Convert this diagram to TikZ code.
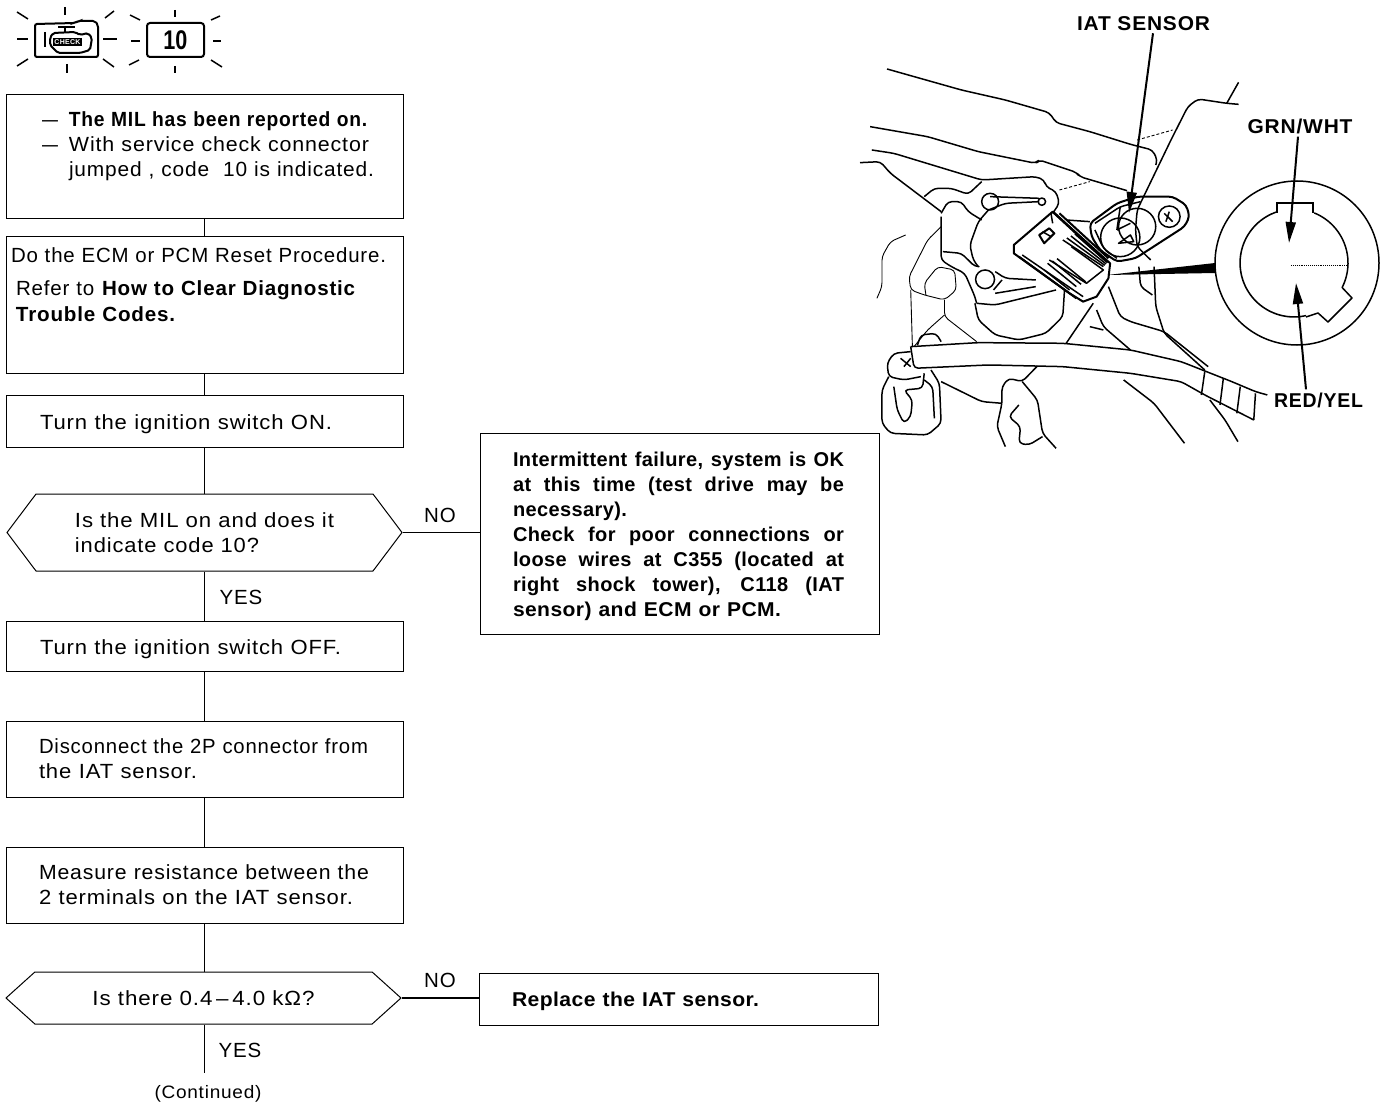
\documentclass[tikz,border=0pt]{standalone}
\usepackage{fontspec}
\setmainfont[LetterSpace=4]{Liberation Sans}
\usetikzlibrary{arrows.meta,shapes.symbols}
\newcommand{\jline}[1]{\makebox[331pt][s]{\spaceskip=6pt plus 30pt\relax #1}}
\newcommand{\fitline}[2]{\resizebox{#1pt}{\height}{#2}}

\begin{document}
\begin{tikzpicture}[x=1pt,y=-1pt,
  flowtext/.style={font=\fontsize{20.5}{25}\selectfont},
  flowbox/.style={draw,flowtext,line width=1pt,minimum width=397,inner xsep=#1,
    text width={(397-2*#1)*1pt},align=left},
  notebox/.style={draw,line width=1pt,minimum width=399,inner xsep=33,
    text width=333,align=left,font=\fontsize{20}{25}\selectfont\bfseries\addfontfeature{LetterSpace=2}},
  flowhex/.style={draw,flowtext,line width=1pt,align=left,signal,
    signal from=nowhere,signal to=east and west,inner xsep=0},
  flowline/.style={line width=1pt},
  sketch/.style={line width=1.5pt,line join=round,rounded corners=4pt},
  thinsketch/.style={line width=.9pt,line join=round,rounded corners=4pt},
  callout/.style={font=\fontsize{20}{24}\selectfont\bfseries},
  pointer/.style={line width=2pt,-{Stealth[inset=0pt,length=21pt,width=10pt]}},
  ray/.style={line width=1.5pt}]

\useasboundingbox (0,0) rectangle (1392,1110);

% lamps
\draw[line width=2pt,rounded corners=2pt] (35,24)--(75,23)--(78,21)--(95,21)--(98,25)--(98,57)--(35,57)--cycle;
\draw[line width=2.5pt] (45,32)--(45,47);
\draw[line width=2pt] (58,27)--(75,27);
\draw[line width=2pt] (65,27)--(65,32);
\draw[line width=2pt,rounded corners=2pt] (53,33)--(75,32)--(80,35)--(88,33)--(92,38)--(90,50)--(80,53)--(58,53)--(50,45)--(50,38)--cycle;
\fill (53,38) rectangle (82,46);
\node[text=white,font=\fontsize{7}{8}\selectfont\bfseries,inner sep=0] (lampword) at (67.5,42) {CHECK};
\foreach \xa/\ya/\xb/\yb in {65/7/65/15, 67/64/67/73, 17/39/28/39, 103/39/117/39,
  17/12/28/19, 105/18/114/11, 17/66/28/59, 103/59/114/67,
  175/10/175/17, 175/66/175/73, 131/41/140/41, 213/41/221/41,
  130/15/140/20, 211/20/220/16, 129/65/139/60, 211/60/222/67}
  \draw[ray] (\xa,\ya)--(\xb,\yb);
\node[draw,line width=2pt,rounded corners=3pt,minimum width=57,minimum height=34,inner sep=0,
  font=\fontsize{27}{27}\selectfont\bfseries] (codelamp) at (175.5,40) {\addfontfeature{LetterSpace=0}\scalebox{.8}[1]{10}};

% flow
\node[flowbox=36,minimum height=124] (mil) at (204.5,157) {%
  \scalebox{1.4}[1]{–}\hspace{11pt}\fitline{299}{\textbf{The MIL has been reported on.}}\\
  \scalebox{1.4}[1]{–}\hspace{11pt}\fitline{300}{With service check connector}\\
  \hspace*{27pt}\fitline{305}{jumped , code\ \ 10 is indicated.}\\ \mbox{}};
\node[flowbox=5,minimum height=136] (reset) at (204.5,305) {%
  \fitline{375}{Do the ECM or PCM Reset Procedure.}\\[8pt]
  \hspace*{5pt}\fitline{340}{Refer to \textbf{How to Clear Diagnostic}}\\[1pt]
  \hspace*{5pt}\fitline{160}{\textbf{Trouble Codes.}}\\[15pt] \mbox{}};
\node[flowbox=34,minimum height=52] (ignon) at (204.5,421) {\rule{0pt}{21pt}\fitline{292}{Turn the ignition switch ON.}};
\node[flowhex,minimum width=395,minimum height=77,signal pointer angle=106] (qmil) at (204.5,532.5)
  {\fitline{259}{Is the MIL on and does it}\\\fitline{184}{indicate code 10?}};
\node[flowbox=34,minimum height=50] (ignoff) at (204.5,646) {\rule{0pt}{21pt}\fitline{301}{Turn the ignition switch OFF.}};
\node[flowbox=33,minimum height=76] (unplug) at (204.5,759) {\fitline{329}{Disconnect the 2P connector from}\\\fitline{158}{the IAT sensor.}};
\node[flowbox=33,minimum height=76] (measure) at (204.5,885) {\fitline{330}{Measure resistance between the}\\\fitline{314}{2 terminals on the IAT sensor.}};
\node[flowhex,minimum width=395,minimum height=52,signal pointer angle=84] (qres) at (203.5,998)
  {\fitline{222}{Is there 0.4\,–\,4.0 kΩ?}};
\node[notebox,minimum height=201] (note) at (679.5,533.5) {%
  \rule{0pt}{21pt}\jline{Intermittent failure, system is OK}\\
  \jline{at this time (test drive may be}\\
  \fitline{114}{necessary).}\\
  \jline{Check for poor connections or}\\
  \jline{loose wires at C355 (located at}\\
  \jline{right shock tower), C118 (IAT}\\
  \fitline{268}{sensor) and ECM or PCM.}};
\node[notebox,minimum height=52] (replace) at (678.5,999) {\rule{0pt}{19pt}\fitline{247}{Replace the IAT sensor.}};
\node[flowtext,font=\fontsize{18}{22}\selectfont,inner sep=0] (cont) at (208,1094) {\fitline{107}{(Continued)}};
\coordinate (contend) at (204.5,1073);

\draw[flowline] (mil)--(reset);
\draw[flowline] (reset)--(ignon);
\draw[flowline] (ignon)--(qmil.north -| ignon);
\draw[flowline] (qmil.south -| ignoff)--(ignoff);
\draw[flowline] (ignoff)--(unplug);
\draw[flowline,line width=1.6pt] (unplug)--(measure);
\draw[flowline,line width=1.6pt] (measure)--(qres.north -| measure);
\draw[flowline,line width=1.6pt] (qres.south -| contend)--(contend);
\draw[flowline] (qmil.east)--(qmil.east -| note.west);
\draw[flowline,line width=2.4pt] (qres.east)--(qres.east -| replace.west);

\node[flowtext,inner sep=0] (yesa) at (241,597) {YES};
\node[flowtext,inner sep=0] (yesb) at (240,1050) {YES};
\node[flowtext,inner sep=0] (noa) at (440,515) {NO};
\node[flowtext,inner sep=0] (nob) at (440,980) {NO};

% engine bay
\begin{scope}[shift={(860,0)},x=.338pt,y=-.3333pt]
\draw[sketch] (80,207)--(300,270)--(430,300)--(560,338)--(580,368)--(680,395)--(800,433)--(865,450)--(880,480)--(875,495);
\draw[sketch] (1120,247)--(1085,310);
\draw[sketch] (1120,313)--(1085,310)--(1000,297)--(970,320)--(920,420)--(820,630)--(815,690)--(820,740)--(860,780);
\draw[thinsketch,densely dashed] (820,420)--(925,390);
\draw[sketch] (30,380)--(200,410)--(350,455)--(520,490)--(530,480)--(640,517)--(650,530)--(790,572);
\draw[sketch] (35,450)--(100,460)--(360,540)--(520,530)--(545,540)--(550,560)--(580,575)--(590,610)--(570,640);
\draw[thinsketch,densely dashed] (590,570)--(680,545);
\draw[sketch] (0,488)--(60,485)--(90,520)--(240,635);
% bracket
\draw[sketch] (190,590)--(220,565)--(270,565)--(320,583)--(360,545);
\draw[sketch] (385,605) circle[radius=25];
\draw[sketch] (240,640)--(260,605)--(300,605)--(320,635)--(360,660);
\draw[sketch] (240,650)--(240,780)--(270,800)--(310,820)--(340,890)--(345,910);
\draw[sketch] (245,755)--(300,760)--(340,800)--(350,800);
\draw[thinsketch] (135,705)--(90,725)--(65,770)--(65,860)--(50,895);
\draw[thinsketch] (240,680)--(200,720)--(145,830)--(150,870)--(190,885)--(250,900)--(285,870)--(280,810)--(230,800)--(190,850)--(195,885);
\draw[thinsketch] (150,870)--(155,1040);
\draw[thinsketch] (250,900)--(250,950)--(345,1025);
\draw[thinsketch] (250,945)--(200,990)--(160,1040);
\draw[sketch] (370,838) circle[radius=28];
\draw[sketch] (400,815)--(430,835)--(520,840);
\draw[sketch] (395,870)--(420,840);
\draw[sketch] (400,880)--(520,860);
% throttle body
\draw[sketch] (380,630)--(350,665)--(325,735)--(335,780)--(350,800);
\draw[sketch] (380,630)--(430,610)--(530,605);
\draw[sketch] (385,590)--(530,595);
\draw[sketch] (538,605) circle[radius=11];
\draw[sketch] (340,910)--(350,960)--(400,1005)--(470,1020)--(550,1000)--(600,950)--(605,870);
\draw[sketch] (345,910)--(400,915)--(580,870);
% connector
\draw[sketch,sharp corners,line width=2pt] (455,735)--(570,635)--(740,790)--(735,835)--(700,890)--(660,905)--(620,880)--(455,760)--cycle;
\draw[sketch,sharp corners,line width=2.4pt] (570,635)--(730,785);
\draw[sketch,sharp corners,line width=2pt] (590,640)--(735,775);
\draw[sketch,sharp corners,line width=2pt] (470,770)--(640,895);
\draw[sketch,sharp corners] (480,765)--(660,890);
\draw[sketch,sharp corners,line width=2pt] (530,705)--(560,685)--(575,700)--(545,730)--cycle;
\draw[sketch,sharp corners] (540,695)--(565,710);
\foreach \off in {0,12,24,36}
  \draw[sketch,sharp corners] (600+\off,720-\off/2)--(720+\off/3,800-\off/3);
\draw[sketch,sharp corners] (625,740)--(720,810)--(670,850)--(560,780);
\foreach \off in {0,14,28}
  \draw[sketch,sharp corners] (555+\off,790-\off/2)--(640+\off,860-\off/2);
\draw[sketch,sharp corners] (545,810)--(620,870);
\draw[sketch,sharp corners] (565,640)--(570,670);
\draw[sketch,sharp corners] (610,660)--(680,665);
% sensor
\draw[sketch,line width=2pt] (680,670)--(760,610)--(820,590)--(925,590)--(965,615)--(975,650)--(960,680)--(815,775)--(760,785)--(710,750)--(685,710)--cycle;
\draw[sketch] (695,670)--(770,620)--(830,605);
\draw[sketch] (695,690)--(720,745)--(760,775);
\draw[sketch] (770,712) circle[radius=58];
\draw[sketch] (820,680) circle[radius=55];
\draw[sketch] (915,650) circle[radius=32];
\draw[sketch] (900,640)--(925,665);
\draw[sketch] (915,635)--(905,665);
\draw[sketch] (760,690)--(800,670);
\draw[sketch,sharp corners] (765,730)--(800,705)--(810,725)--cycle;
\draw[sketch] (770,620)--(760,690);
% lower lines
\draw[sketch] (735,860)--(770,950)--(800,965)--(900,995)--(1030,1100);
\draw[sketch] (870,800)--(875,920)--(900,1000)--(1020,1110);
\draw[sketch] (825,800)--(830,860)--(865,885);
\draw[sketch] (690,910)--(610,1030);
\draw[sketch] (700,930)--(720,980)--(800,1050);
\draw[sketch] (680,980)--(720,990);
% hose
\draw[sketch] (150,1040)--(350,1028)--(600,1030)--(800,1050)--(950,1085)--(1100,1145)--(1170,1175)--(1205,1185);
\draw[sketch] (150,1040)--(160,1105)--(380,1095)--(600,1100)--(800,1120)--(950,1145)--(1020,1185)--(1165,1260);
\foreach \xa/\ya/\xb/\yb in {1020/1115/1010/1185, 1075/1135/1065/1215, 1125/1160/1115/1240, 1170/1180/1165/1260}
  \draw[sketch] (\xa,\ya)--(\xb,\yb);
% clamp
\draw[sketch] (150,1055)--(100,1060)--(80,1090)--(85,1130)--(130,1140)--(180,1130);
\draw[sketch] (120,1075)--(150,1100);
\draw[sketch] (130,1100)--(150,1075);
\draw[sketch] (85,1130)--(65,1170)--(65,1270)--(90,1300)--(200,1305)--(240,1270)--(235,1150)--(210,1110);
\draw[sketch] (100,1160)--(110,1230)--(130,1270)--(150,1250)--(155,1200)--(130,1170)--(185,1165)--(190,1120);
\draw[sketch] (190,1140)--(215,1160)--(220,1255);
\draw[sketch] (170,1035)--(180,1005)--(225,1000)--(240,1025);
% bottom
\draw[sketch] (240,1145)--(360,1205)--(420,1210);
\draw[sketch] (525,1098)--(480,1145)--(440,1135)--(420,1160)--(420,1210)--(405,1280)--(430,1340);
\draw[sketch] (480,1145)--(525,1200)--(540,1300)--(580,1345);
\draw[sketch] (470,1215)--(440,1250)--(475,1280)--(470,1330)--(500,1335)--(540,1310);
\draw[sketch] (780,1140)--(870,1210)--(960,1330);
\draw[sketch] (1035,1200)--(1080,1260)--(1118,1325);
\end{scope}

% inset
\draw[sketch] (1297,263) circle[radius=82];
\draw[sketch,sharp corners,domain=-68:27,samples=30,variable=\x] plot ({1294+54*cos(\x)},{263+54*sin(\x)})
  --(1352,298)--(1328,322)--(1318,313)--(1306,317);
\draw[sketch,domain=77:251,samples=40,variable=\x] plot ({1294+54*cos(\x)},{263+54*sin(\x)});
\draw[line width=1.5pt] (1277,213)--(1277,203)--(1313,203)--(1313,213);
\draw[thinsketch,densely dotted] (1291,265)--(1348,265);
\fill (1107,275)--(1215,263)--(1215,273)--cycle;

\node[callout,inner sep=0] (iatlabel) at (1143.5,24) {\fitline{133}{IAT SENSOR}};
\node[callout,inner sep=0] (grnlabel) at (1300,126) {\fitline{105}{GRN/WHT}};
\node[callout,inner sep=0] (redlabel) at (1318.5,400) {\fitline{89}{RED/YEL}};
\coordinate (iattip) at (1129,213);
\coordinate (grntip) at (1289,243);
\coordinate (redtip) at (1296,283);
\draw[pointer] (iatlabel.south -| 1153,0)++(0,2)--(iattip);
\draw[pointer] (grnlabel.south -| 1298,0)++(0,3)--(grntip);
\draw[pointer] (redlabel.north -| 1306,0)++(0,-3)--(redtip);

\end{tikzpicture}
\end{document}
